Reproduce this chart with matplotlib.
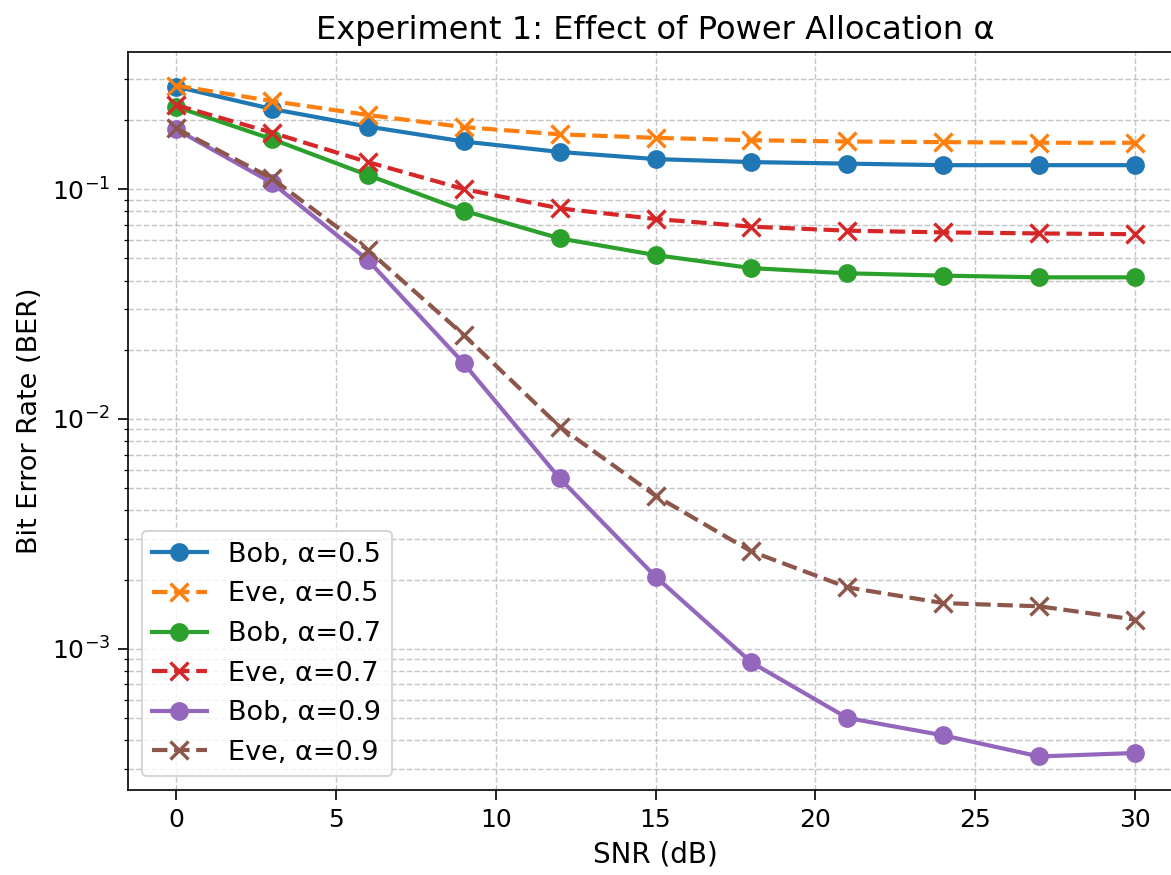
import matplotlib
matplotlib.use("Agg")
import matplotlib.pyplot as plt

snr_db = [0, 3, 6, 9, 12, 15, 18, 21, 24, 27, 30]

bob_05 = [0.279, 0.223, 0.187, 0.161, 0.145, 0.135, 0.131, 0.129, 0.127, 0.127, 0.127]
eve_05 = [0.282, 0.2415, 0.210, 0.186, 0.173, 0.167, 0.163, 0.161, 0.160, 0.159, 0.159]
bob_07 = [0.228, 0.165, 0.115, 0.0805, 0.061, 0.0516, 0.0453, 0.043, 0.042, 0.0413, 0.0413]
eve_07 = [0.232, 0.176, 0.131, 0.100, 0.0824, 0.0741, 0.0686, 0.0659, 0.0648, 0.0641, 0.0636]
bob_09 = [0.182, 0.1065, 0.0491, 0.01746, 0.00552, 0.00206, 0.000872, 0.000500, 0.000420, 0.000340, 0.000352]
eve_09 = [0.184, 0.1113, 0.0543, 0.0232, 0.00926, 0.00463, 0.00265, 0.00185, 0.00158, 0.00153, 0.00134]

labels = ["Bob, α=0.5", "Eve, α=0.5", "Bob, α=0.7", "Eve, α=0.7", "Bob, α=0.9", "Eve, α=0.9"]
series = [bob_05, eve_05, bob_07, eve_07, bob_09, eve_09]
colors = ["#1f77b4", "#ff7f0e", "#2ca02c", "#d62728", "#9467bd", "#8c564b"]

W, H = 1171, 875
dpi = 150
fig = plt.figure(figsize=(W / dpi, H / dpi), dpi=dpi)
ax = fig.add_axes([128 / W, 1 - 790 / H, (1183 - 128) / W, (790 - 52) / H])

for i, (vals, lab, c) in enumerate(zip(series, labels, colors)):
    if i % 2 == 0:
        ax.semilogy(snr_db, vals, marker="o", linestyle="-", color=c, label=lab,
                    linewidth=2, markersize=8)
    else:
        ax.semilogy(snr_db, vals, marker="x", linestyle="--", color=c, label=lab,
                    linewidth=2, markersize=8.5, markeredgewidth=1.6)

ax.set_xlabel("SNR (dB)", fontsize=13.3)
ax.set_ylabel("Bit Error Rate (BER)", fontsize=13)
ax.set_title("Experiment 1: Effect of Power Allocation α", fontsize=15.4)
ax.tick_params(labelsize=12, length=5)
ax.grid(True, which="both", linestyle="--", color="#b8b8b8", alpha=0.8, linewidth=0.7)
ax.legend(loc="lower left", fontsize=13)

fig.savefig("out.png", dpi=dpi)
